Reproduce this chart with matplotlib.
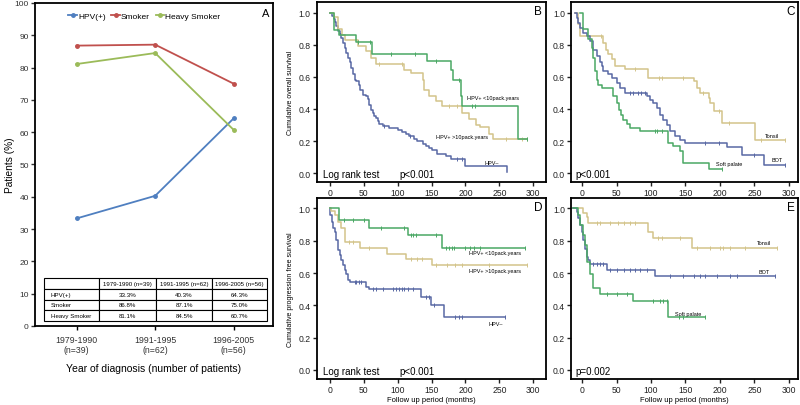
import numpy as np
import matplotlib
matplotlib.use("Agg")
import matplotlib.pyplot as plt

plt.rcParams['font.family'] = ['Liberation Sans', 'DejaVu Sans']

# ---- panel A data ----
periods = ["1979-1990\n(n=39)", "1991-1995\n(n=62)", "1996-2005\n(n=56)"]
period_hdr = ["1979-1990 (n=39)", "1991-1995 (n=62)", "1996-2005 (n=56)"]
hpv_pos = [33.3, 40.3, 64.3]
smoker = [86.8, 87.1, 75.0]
heavy_smoker = [81.1, 84.5, 60.7]

# ---- KM curves: step times (months), survival after step, censor times ----
# B: overall survival by HPV / smoking
b_low_t = [0, 6.3, 13, 39, 63, 144, 178, 182, 193, 195, 277, 290]
b_low_s = [1.0, 0.89, 0.86, 0.82, 0.74, 0.70, 0.64, 0.58, 0.48, 0.42, 0.21, 0.21]
b_low_c = [41, 60, 90, 125, 156, 190, 210, 214, 290]

b_high_t = [0, 7, 12, 18.5, 23, 41, 54, 61, 68, 110, 120, 137, 139, 146, 156, 166,
            195, 205, 215, 222, 234, 241, 290]
b_high_s = [1.0, 0.97, 0.90, 0.86, 0.83, 0.79, 0.76, 0.72, 0.68, 0.645, 0.625, 0.58,
            0.52, 0.48, 0.45, 0.42, 0.375, 0.34, 0.30, 0.285, 0.245, 0.21, 0.21]
b_high_c = [73, 107, 176, 188, 259, 283, 290]

b_neg_t = [0, 3.9, 5.9, 7.8, 9.8, 12.2, 14.6, 17.1, 19.5, 22, 24.4, 26.8, 29.3, 31.7,
           34.1, 36.6, 39, 43, 45, 48.8, 53.7, 56, 58.5, 61, 63.4, 65.9, 68.3, 70.7,
           73.2, 78, 87.8, 100, 107, 112, 117, 124, 129, 137, 141.5, 146, 151, 158.5,
           171, 178, 200, 261]
b_neg_s = [1.0, 0.98, 0.96, 0.94, 0.92, 0.885, 0.865, 0.845, 0.81, 0.78, 0.75, 0.72,
           0.69, 0.656, 0.615, 0.583, 0.573, 0.552, 0.52, 0.49, 0.48, 0.46, 0.427,
           0.396, 0.375, 0.354, 0.344, 0.323, 0.308, 0.292, 0.281, 0.267, 0.254,
           0.246, 0.229, 0.2125, 0.198, 0.183, 0.167, 0.156, 0.146, 0.121, 0.104,
           0.0875, 0.042, 0.01]
b_neg_c = [80, 119, 188, 195]

# C: overall survival by site
c_ton_t = [-10.7, -5.8, -3.4, 30.6, 34.5, 37.9, 42.7, 47.6, 62, 96, 162, 166.5, 171,
           183.5, 186, 191, 203, 251.5, 295]
c_ton_s = [1.0, 0.927, 0.854, 0.81, 0.77, 0.74, 0.71, 0.667, 0.646, 0.594, 0.573,
           0.53, 0.50, 0.47, 0.44, 0.385, 0.3125, 0.208, 0.208]
c_ton_c = [28, 77, 111, 115.5, 147, 176, 198, 212.6, 259, 295]

c_bot_t = [-10.7, -8.3, -5.8, -3.4, 1.5, 6.3, 11.2, 16, 20.9, 25.7, 28.2, 30.6, 37.9,
           42.7, 50, 54.9, 62, 93.7, 98.5, 103, 108, 113, 118, 123, 127.7, 135, 142,
           149.5, 210, 232, 263.6, 295]
c_bot_s = [1.0, 0.969, 0.9375, 0.906, 0.875, 0.854, 0.823, 0.77, 0.73, 0.69, 0.667,
           0.635, 0.615, 0.594, 0.5625, 0.531, 0.5, 0.479, 0.458, 0.4375, 0.406,
           0.365, 0.333, 0.302, 0.26, 0.229, 0.208, 0.19, 0.16, 0.115, 0.052, 0.052]
c_bot_c = [69.4, 74, 81.5, 86, 91, 178.6, 198, 250, 295]

c_soft_t = [-3.4, 1.5, 8.7, 13.6, 16, 18.4, 20.9, 23.3, 28.2, 45, 50, 53.9, 55.8,
            59.7, 64.6, 69.4, 84, 125, 132.5, 142, 147, 183.5, 203]
c_soft_s = [1.0, 0.896, 0.833, 0.78, 0.72, 0.635, 0.583, 0.552, 0.531, 0.479, 0.4375,
            0.396, 0.365, 0.333, 0.308, 0.281, 0.26, 0.1875, 0.167, 0.135, 0.0625,
            0.025, 0.025]
c_soft_c = [106, 108, 115.5, 203]

# D: progression free survival by HPV / smoking
d_low_t = [0, 13.7, 58.5, 114.6, 166, 288]
d_low_s = [1.0, 0.927, 0.882, 0.834, 0.755, 0.755]
d_low_c = [20.5, 34, 51, 75.6, 110, 119.5, 122, 127, 156, 171, 175.6, 179.5, 183,
           200, 207, 212, 222, 288]

d_high_t = [0, 2.4, 7.3, 12.2, 17, 22, 44, 85, 112, 151, 290]
d_high_s = [1.0, 0.985, 0.96, 0.917, 0.876, 0.79, 0.755, 0.72, 0.69, 0.647, 0.647]
d_high_c = [29, 34, 58.5, 119.5, 129, 136.6, 156, 173, 185, 195, 234, 290]

d_neg_t = [0, 1, 2.9, 4.9, 7.3, 9.8, 12.2, 14.6, 17, 19.5, 22, 24.4, 26.8, 29.3, 53.7,
           58.5, 134, 149, 168, 258.5]
d_neg_s = [1.0, 0.958, 0.917, 0.876, 0.855, 0.803, 0.741, 0.71, 0.678, 0.647, 0.616,
           0.595, 0.554, 0.544, 0.512, 0.50, 0.45, 0.40, 0.326, 0.326]
d_neg_c = [36.6, 39, 43, 46, 63.4, 68, 78, 92.7, 97.6, 102, 107, 110, 114.6, 122,
           141.5, 146, 153.7, 185, 190, 195, 258.5]

# E: progression free survival by site
e_ton_t = [-13, 1.5, 6.3, 8.7, 96, 103, 159, 283]
e_ton_s = [1.0, 0.97, 0.95, 0.907, 0.855, 0.817, 0.755, 0.755]
e_ton_c = [21, 25.7, 40, 52, 60, 69.4, 77, 110.7, 115.5, 142, 166.5, 186, 200.5, 205,
           215, 237, 283]

e_bot_t = [-13, -8.3, -5.8, -3.4, -1, 1.5, 3.9, 6.3, 8.7, 11.2, 35.4, 106, 280.6]
e_bot_s = [1.0, 0.98, 0.938, 0.896, 0.855, 0.803, 0.75, 0.70, 0.678, 0.658, 0.616,
           0.579, 0.579]
e_bot_c = [16, 21, 25.7, 30.6, 40, 50, 60, 69.4, 77, 84, 93.7, 127.7, 147, 161.7, 171,
           178.6, 195.6, 215, 225, 280.6]

e_soft_t = [-13, -5.8, -3.4, 1.5, 3.9, 6.3, 11.2, 16, 25.7, 74, 125, 178.6]
e_soft_s = [1.0, 0.959, 0.896, 0.834, 0.772, 0.668, 0.595, 0.506, 0.47, 0.43, 0.326,
            0.326]
e_soft_c = [35.4, 50, 64.6, 103, 113, 118, 123, 140, 147, 178.6]

blue = '#4f7fc0'
red = '#c0504d'
lime = '#9bbb59'
km_green = '#4aa864'
km_tan = '#d3c48a'
km_blue = '#5868a4'

fig = plt.figure(figsize=(8, 4.06), dpi=100)

# ---------------- panel A ----------------
axA = fig.add_axes([0.04375, 0.1946, 0.2975, 0.7956])
x = np.arange(len(periods))
axA.plot(x, hpv_pos, color=blue, lw=1.3, marker='o', ms=2.5, label='HPV(+)')
axA.plot(x, smoker, color=red, lw=1.3, marker='o', ms=2.5, label='Smoker')
axA.plot(x, heavy_smoker, color=lime, lw=1.3, marker='o', ms=2.5, label='Heavy Smoker')
axA.set_xlim(-0.53, 2.5)
axA.set_ylim(0, 100)
axA.set_yticks(range(0, 101, 10))
axA.set_xticks(x)
axA.set_xticklabels(periods, fontsize=6.3, color='#333333')
axA.tick_params(axis='y', labelsize=6, length=3, width=1, colors='#333333', pad=1.5)
axA.tick_params(axis='x', length=3, width=1)
for sp in axA.spines.values():
    sp.set_linewidth(1.3)
axA.set_ylabel('Patients (%)', fontsize=7.3)
axA.yaxis.set_label_coords(-0.085, 0.5)
axA.set_xlabel('Year of diagnosis (number of patients)', fontsize=7.5, labelpad=6)
axA.legend(loc='upper center', bbox_to_anchor=(0.46, 0.995), ncol=3, frameon=False,
           fontsize=6, handlelength=1.0, handletextpad=0.15, columnspacing=0.7)
axA.text(0.985, 0.985, 'A', transform=axA.transAxes, ha='right', va='top', fontsize=8)

cells = [[''] + period_hdr]
for name, vals in [('HPV(+)', hpv_pos), ('Smoker', smoker), ('Heavy Smoker', heavy_smoker)]:
    cells.append([name] + ['%.1f%%' % v for v in vals])
tbl = axA.table(cellText=cells, bbox=[0.038, 0.0155, 0.937, 0.133],
                colWidths=[55, 57, 56, 55], cellLoc='center')
tbl.auto_set_font_size(False)
for (r, c), cell in tbl.get_celld().items():
    cell.set_linewidth(0.8)
    cell.get_text().set_fontsize(4.4)
    if c == 0:
        cell.get_text().set_ha('left')
        cell._loc = 'left'
        cell.PAD = 0.12


def km(ax, t, s, cens, color):
    t = np.asarray(t)
    s = np.asarray(s)
    ax.step(t, s, where='post', color=color, lw=1.1)
    cens = np.asarray(cens)
    idx = np.searchsorted(t, cens, side='right') - 1
    ax.plot(cens, s[idx], ls='none', marker='|', ms=3.5, mew=0.7, color=color)


def km_frame(ax, xlim, letter):
    ax.set_xlim(*xlim)
    ax.set_ylim(-0.056, 1.065)
    ax.set_yticks([0.0, 0.2, 0.4, 0.6, 0.8, 1.0])
    ax.set_yticklabels(['0.0', '0.2', '0.4', '0.6', '0.8', '1.0'])
    ax.set_xticks(range(0, 301, 50))
    ax.tick_params(labelsize=6.2, length=3, width=1, colors='#222222', pad=1.5)
    for sp in ax.spines.values():
        sp.set_linewidth(1.3)
    ax.text(0.985, 0.985, letter, transform=ax.transAxes, ha='right', va='top',
            fontsize=8.5)


# ---------------- panel B ----------------
axB = fig.add_axes([0.396, 0.549, 0.286, 0.443])
km(axB, b_neg_t, b_neg_s, b_neg_c, km_blue)
km(axB, b_high_t, b_high_s, b_high_c, km_tan)
km(axB, b_low_t, b_low_s, b_low_c, km_green)
km_frame(axB, (-19, 318), 'B')
axB.set_ylabel('Cumulative overall survival', fontsize=5, labelpad=3)
axB.text(241, 0.469, 'HPV+ <10pack.years', fontsize=4, ha='center', va='center')
axB.text(195, 0.229, 'HPV+ >10pack.years', fontsize=4, ha='center', va='center')
axB.text(238, 0.067, 'HPV\u2013', fontsize=4, ha='center', va='center')
axB.text(0.027, 0.015, 'Log rank test', transform=axB.transAxes, fontsize=7,
         va='bottom')
axB.text(0.362, 0.015, 'p<0.001', transform=axB.transAxes, fontsize=7, va='bottom')

# ---------------- panel C ----------------
axC = fig.add_axes([0.714, 0.549, 0.284, 0.443])
km(axC, c_ton_t, c_ton_s, c_ton_c, km_tan)
km(axC, c_bot_t, c_bot_s, c_bot_c, km_blue)
km(axC, c_soft_t, c_soft_s, c_soft_c, km_green)
km_frame(axC, (-16, 314), 'C')
axC.text(276, 0.235, 'Tonsil', fontsize=4, ha='center', va='center')
axC.text(283, 0.0875, 'BOT', fontsize=4, ha='center', va='center')
axC.text(213, 0.058, 'Soft palate', fontsize=4, ha='center', va='center')
axC.text(0.02, 0.015, 'p<0.001', transform=axC.transAxes, fontsize=7, va='bottom')

# ---------------- panel D ----------------
axD = fig.add_axes([0.396, 0.064, 0.286, 0.446])
km(axD, d_neg_t, d_neg_s, d_neg_c, km_blue)
km(axD, d_high_t, d_high_s, d_high_c, km_tan)
km(axD, d_low_t, d_low_s, d_low_c, km_green)
km_frame(axD, (-19, 318), 'D')
axD.set_ylabel('Cumulative progression free survival', fontsize=5, labelpad=3)
axD.set_xlabel('Follow up period (months)', fontsize=5.5, labelpad=1)
axD.text(243, 0.726, 'HPV+ <10pack.years', fontsize=4, ha='center', va='center')
axD.text(243, 0.616, 'HPV+ >10pack.years', fontsize=4, ha='center', va='center')
axD.text(244, 0.29, 'HPV\u2013', fontsize=4, ha='center', va='center')
axD.text(0.027, 0.015, 'Log rank test', transform=axD.transAxes, fontsize=7,
         va='bottom')
axD.text(0.362, 0.015, 'p<0.001', transform=axD.transAxes, fontsize=7, va='bottom')

# ---------------- panel E ----------------
axE = fig.add_axes([0.714, 0.064, 0.284, 0.446])
km(axE, e_ton_t, e_ton_s, e_ton_c, km_tan)
km(axE, e_bot_t, e_bot_s, e_bot_c, km_blue)
km(axE, e_soft_t, e_soft_s, e_soft_c, km_green)
km_frame(axE, (-16, 314), 'E')
axE.set_xlabel('Follow up period (months)', fontsize=5.5, labelpad=1)
axE.text(264, 0.79, 'Tonsil', fontsize=4, ha='center', va='center')
axE.text(264, 0.61, 'BOT', fontsize=4, ha='center', va='center')
axE.text(154, 0.35, 'Soft palate', fontsize=4, ha='center', va='center')
axE.text(0.02, 0.015, 'p=0.002', transform=axE.transAxes, fontsize=7, va='bottom')

fig.savefig('out.png', dpi=100)
